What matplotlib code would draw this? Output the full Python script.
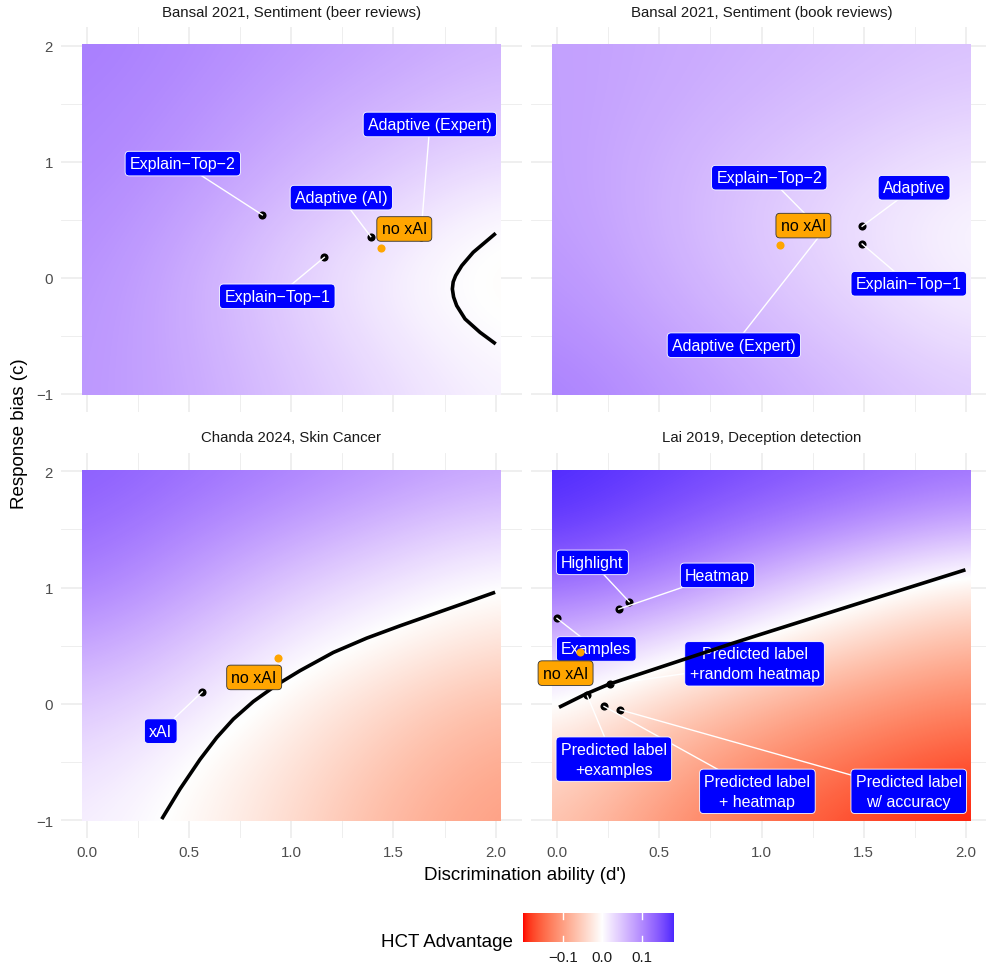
# -*- coding: utf-8 -*-
"""
HCT advantage maps (d' vs c), four studies
"""

#%%
import numpy as np
import matplotlib
matplotlib.use("Agg")
import matplotlib.pyplot as plt
from matplotlib.colors import ListedColormap, Normalize
from matplotlib.patches import Rectangle

plt.rcParams['font.family'] = ['Liberation Sans', 'DejaVu Sans']

#%% ================= DATA =================

# grid nodes of the advantage surface
grid_d = [0.0, 0.5, 1.0, 1.5, 2.0]
grid_c = [-1.0, -0.5, 0.0, 0.5, 1.0, 1.5, 2.0]

# rows follow grid_c (bottom -> top), columns follow grid_d
beer_field = [
    [0.090, 0.075, 0.052, 0.030, 0.010],
    [0.092, 0.072, 0.045, 0.020, 0.000],
    [0.095, 0.072, 0.040, 0.012, -0.008],
    [0.100, 0.080, 0.052, 0.028, 0.003],
    [0.105, 0.090, 0.068, 0.048, 0.030],
    [0.108, 0.097, 0.080, 0.064, 0.050],
    [0.112, 0.102, 0.090, 0.078, 0.066],
]
book_field = [
    [0.110, 0.092, 0.074, 0.057, 0.042],
    [0.100, 0.081, 0.062, 0.043, 0.025],
    [0.092, 0.071, 0.051, 0.030, 0.010],
    [0.086, 0.067, 0.046, 0.025, 0.007],
    [0.084, 0.068, 0.052, 0.037, 0.022],
    [0.083, 0.073, 0.062, 0.051, 0.040],
    [0.082, 0.075, 0.068, 0.060, 0.052],
]
skin_field = [
    [0.015, -0.005, -0.038, -0.075, -0.100],
    [0.030, 0.002, -0.028, -0.062, -0.088],
    [0.050, 0.025, -0.012, -0.042, -0.068],
    [0.080, 0.050, 0.015, -0.010, -0.034],
    [0.110, 0.080, 0.045, 0.020, 0.000],
    [0.128, 0.105, 0.080, 0.055, 0.035],
    [0.140, 0.125, 0.108, 0.090, 0.075],
]
decep_field = [
    [-0.058, -0.104, -0.145, -0.175, -0.200],
    [-0.033, -0.078, -0.115, -0.145, -0.168],
    [0.004, -0.040, -0.075, -0.103, -0.126],
    [0.060, 0.025, -0.012, -0.048, -0.075],
    [0.125, 0.100, 0.055, 0.012, -0.020],
    [0.168, 0.145, 0.118, 0.092, 0.065],
    [0.182, 0.168, 0.152, 0.137, 0.122],
]

# zero-advantage boundary
beer_line_d = [2.000, 1.890, 1.834, 1.804, 1.792, 1.788, 1.794, 1.809, 1.850, 1.923, 2.000]
beer_line_c = [0.384, 0.220, 0.105, 0.019, -0.035, -0.096, -0.165, -0.239, -0.354, -0.469, -0.569]
skin_line_d = [0.367, 0.456, 0.554, 0.636, 0.717, 0.815, 0.929, 1.043, 1.206,
               1.369, 1.532, 1.695, 1.858, 1.997]
skin_line_c = [-0.992, -0.734, -0.479, -0.290, -0.132, 0.020, 0.163, 0.285, 0.442,
               0.565, 0.671, 0.772, 0.873, 0.960]
decep_line_d = [0.010, 0.142, 0.256, 0.500, 0.861, 1.000, 1.500, 1.997]
decep_line_c = [-0.030, 0.085, 0.170, 0.312, 0.522, 0.600, 0.878, 1.153]

# conditions (d', c)
beer_names = ["Explain\u2212Top\u22122", "Explain\u2212Top\u22121", "Adaptive (AI)", "Adaptive (Expert)"]
beer_d = [0.859, 1.162, 1.389, 1.633]
beer_c = [0.542, 0.177, 0.355, 0.350]
beer_noxai = (1.439, 0.255)

book_names = ["Explain\u2212Top\u22122", "Adaptive", "Explain\u2212Top\u22121", "Adaptive (Expert)"]
book_d = [1.270, 1.492, 1.492, 1.310]
book_c = [0.450, 0.444, 0.292, 0.420]
book_noxai = (1.091, 0.283)

skin_names = ["xAI"]
skin_d = [0.565]
skin_c = [0.103]
skin_noxai = (0.934, 0.396)

decep_names = ["Highlight", "Heatmap", "Examples", "Predicted label\n+random heatmap",
               "Predicted label\n+examples", "Predicted label\n+ heatmap",
               "Predicted label\nw/ accuracy"]
decep_d = [0.353, 0.302, 0.000, 0.258, 0.147, 0.230, 0.310]
decep_c = [0.878, 0.815, 0.735, 0.169, 0.075, -0.022, -0.052]
decep_noxai = (0.111, 0.442)

titles = ["Bansal 2021, Sentiment (beer reviews)", "Bansal 2021, Sentiment (book reviews)",
          "Chanda 2024, Skin Cancer", "Lai 2019, Deception detection"]

#%% ================= LAYOUT (label placement) =================

beer_lab = [(0.470, 0.984), (0.932, -0.159), (1.245, 0.691), (1.678, 1.321)]
beer_noxai_lab = (1.553, 0.421)
book_lab = [(1.038, 0.863), (1.746, 0.776), (1.720, -0.051), (0.865, -0.580)]
book_noxai_lab = (1.205, 0.450)
skin_lab = [(0.362, -0.235)]
skin_noxai_lab = (0.819, 0.227)
decep_lab = [(0.173, 1.217), (0.785, 1.105), (0.192, 0.472), (0.966, 0.344),
             (0.278, -0.476), (0.980, -0.753), (1.720, -0.753)]
decep_noxai_lab = (0.042, 0.264)

#%% colour scale: red - white - blue, interpolated in Lab like ggplot

def srgb_to_lab(rgb):
    rgb = np.asarray(rgb, float)
    lin = np.where(rgb <= 0.04045, rgb / 12.92, ((rgb + 0.055) / 1.055) ** 2.4)
    M = np.array([[0.4124564, 0.3575761, 0.1804375],
                  [0.2126729, 0.7151522, 0.0721750],
                  [0.0193339, 0.1191920, 0.9503041]])
    xyz = M @ lin / np.array([0.95047, 1.0, 1.08883])
    f = np.where(xyz > 216 / 24389, np.cbrt(xyz), (24389 / 27 * xyz + 16) / 116)
    return np.array([116 * f[1] - 16, 500 * (f[0] - f[1]), 200 * (f[1] - f[2])])

def lab_to_srgb(lab):
    L, a, b = lab
    fy = (L + 16) / 116
    fx = fy + a / 500
    fz = fy - b / 200
    f = np.array([fx, fy, fz])
    xyz = np.where(f ** 3 > 216 / 24389, f ** 3, (116 * f - 16) / (24389 / 27))
    xyz = xyz * np.array([0.95047, 1.0, 1.08883])
    Minv = np.array([[3.2404542, -1.5371385, -0.4985314],
                     [-0.9692660, 1.8760108, 0.0415560],
                     [0.0556434, -0.2040259, 1.0572252]])
    lin = np.clip(Minv @ xyz, 0, 1)
    rgb = np.where(lin <= 0.0031308, 12.92 * lin, 1.055 * lin ** (1 / 2.4) - 0.055)
    return np.clip(rgb, 0, 1)

lab_low = srgb_to_lab([1, 0, 0])
lab_mid = srgb_to_lab([1, 1, 1])
lab_high = srgb_to_lab([0, 0, 1])
ramp = []
for t in np.linspace(0, 1, 511):
    if t <= 0.5:
        lab = lab_low + (lab_mid - lab_low) * (t / 0.5)
    else:
        lab = lab_mid + (lab_high - lab_mid) * ((t - 0.5) / 0.5)
    ramp.append(lab_to_srgb(lab))
cmap = ListedColormap(ramp)

all_vals = np.concatenate([np.ravel(beer_field), np.ravel(book_field),
                           np.ravel(skin_field), np.ravel(decep_field)])
vmin, vmax = all_vals.min(), all_vals.max()
lim = max(abs(vmin), abs(vmax))
norm = Normalize(-lim, lim)

#%% figure

W, H = 987, 970
fig = plt.figure(figsize=(W / 100, H / 100), dpi=100)

def px_axes(x0, y0, x1, y1):
    return fig.add_axes([x0 / W, 1 - y1 / H, (x1 - x0) / W, (y1 - y0) / H])

panel_boxes = [(60.7, 28.3, 521.7, 413.3), (531, 28.3, 992, 413.3),
               (60.7, 454, 521.7, 839.4), (531, 454, 992, 839.4)]
title_y = [13, 13, 438, 438]

fields = [beer_field, book_field, skin_field, decep_field]
lines = [(beer_line_d, beer_line_c), None, (skin_line_d, skin_line_c),
         (decep_line_d, decep_line_c)]
conds = [(beer_names, beer_d, beer_c, beer_lab, beer_noxai, beer_noxai_lab),
         (book_names, book_d, book_c, book_lab, book_noxai, book_noxai_lab),
         (skin_names, skin_d, skin_c, skin_lab, skin_noxai, skin_noxai_lab),
         (decep_names, decep_d, decep_c, decep_lab, decep_noxai, decep_noxai_lab)]

LABEL_SIZE = 11.5

def put_label(ax, x, y, text, orange=False, z=5):
    if orange:
        fc, tc, ec = '#FFA500', 'black', '#333333'
    else:
        fc, tc, ec = '#0000FF', 'white', 'white'
    ax.text(x, y, text, ha='center', va='center', color=tc, fontsize=LABEL_SIZE,
            linespacing=1.4, multialignment='center', zorder=z,
            bbox=dict(boxstyle='round,pad=0.3,rounding_size=0.25', fc=fc, ec=ec, lw=0.6))

for i in range(4):
    x0, y0, x1, y1 = panel_boxes[i]
    ax = px_axes(x0, y0, x1, y1)

    # raster of the advantage surface
    im = ax.imshow(np.array(fields[i]), origin='lower', extent=(-0.25, 2.25, -1.25, 2.25),
                   cmap=cmap, norm=norm, interpolation='bicubic', aspect='auto', zorder=1)
    im.set_clip_path(Rectangle((-0.024, -1.012), 2.048, 3.024, transform=ax.transData))

    ax.set_xlim(-0.127, 2.127)
    ax.set_ylim(-1.158, 2.158)
    for s in ax.spines.values():
        s.set_visible(False)
    ax.set_xticks([0, 0.5, 1, 1.5, 2])
    ax.set_xticks([0.25, 0.75, 1.25, 1.75], minor=True)
    ax.set_yticks([-1, 0, 1, 2])
    ax.set_yticks([-0.5, 0.5, 1.5], minor=True)
    ax.set_axisbelow(True)
    ax.grid(which='major', color='#EBEBEB', lw=1.1)
    ax.grid(which='minor', color='#EBEBEB', lw=0.6)
    ax.tick_params(which='both', length=0, labelsize=10.8, labelcolor='#4D4D4D')
    ax.tick_params(axis='y', pad=5.5)
    ax.tick_params(axis='x', pad=4.9)

    if i in (2, 3):
        ax.set_xticklabels(["0.0", "0.5", "1.0", "1.5", "2.0"])
    else:
        ax.set_xticklabels([])
    if i in (0, 2):
        ax.set_yticklabels(["\u22121", "0", "1", "2"])
    else:
        ax.set_yticklabels([])

    fig.text((x0 + x1) / 2 / W if i in (0, 2) else 761.4 / W, 1 - title_y[i] / H, titles[i],
             ha='center', va='center', fontsize=10.8, color='#1A1A1A')

    names, dd, cc, labpos, noxai, noxai_lab = conds[i]

    # condition points, leader segments, labels
    ax.scatter(dd, cc, s=34, color='black', zorder=3, linewidths=0)
    for k in range(len(names)):
        lx, ly = labpos[k]
        ax.plot([lx, dd[k]], [ly, cc[k]], color='white', lw=1.0, zorder=4)
        put_label(ax, lx, ly, names[k], z=5)

    # zero boundary
    if lines[i] is not None:
        ax.plot(lines[i][0], lines[i][1], color='black', lw=2.6, zorder=6,
                solid_capstyle='butt', solid_joinstyle='round')

    # no-xAI baseline
    ax.scatter([noxai[0]], [noxai[1]], s=34, color='#FFA500', zorder=7, linewidths=0)
    put_label(ax, noxai_lab[0], noxai_lab[1], "no xAI", orange=True, z=8)

#%% axis titles

fig.text(525 / W, 1 - 876 / H, "Discrimination ability (d')", ha='center', va='center',
         fontsize=13.5)
fig.text(20 / W, 1 - 434 / H, "Response bias (c)", ha='center', va='center',
         rotation=90, fontsize=13.5)

#%% colour bar legend

cax = px_axes(523.3, 914, 674.2, 943)
grad = np.linspace(vmin, vmax, 400)[None, :]
cax.imshow(grad, extent=(vmin, vmax, 0, 1), aspect='auto', cmap=cmap, norm=norm,
           interpolation='bilinear')
for v in [-0.1, 0.0, 0.1]:
    cax.plot([v, v], [0, 0.2], color='white', lw=1.0)
    cax.plot([v, v], [0.8, 1], color='white', lw=1.0)
cax.set_xlim(vmin, vmax)
cax.set_ylim(0, 1)
for s in cax.spines.values():
    s.set_visible(False)
cax.set_yticks([])
cax.set_xticks([-0.1, 0.0, 0.1])
cax.set_xticklabels(["\u22120.1", "0.0", "0.1"])
cax.tick_params(length=0, pad=6, labelsize=10.8, labelcolor='#1A1A1A')

fig.text(513 / W, 1 - 947.3 / H, "HCT Advantage", ha='right', va='baseline', fontsize=13.5)

fig.savefig("out.png", dpi=100)
